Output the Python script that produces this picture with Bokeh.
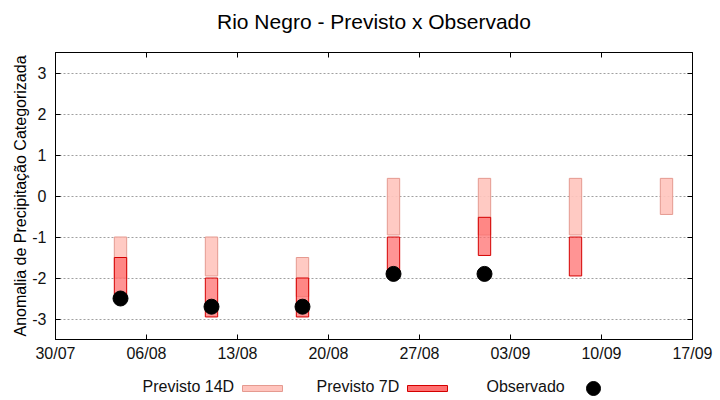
from datetime import datetime

import numpy as np
from bokeh.core.properties import value
from bokeh.embed import file_html
from bokeh.layouts import column
from bokeh.models import (ColumnDataSource, CustomJSTickFormatter, DatetimeAxis,
                          DatetimeTickFormatter, FixedTicker, LinearAxis, Range1d)
from bokeh.plotting import figure
from bokeh.resources import INLINE

# Data
dates = ["2024-08-04", "2024-08-11", "2024-08-18", "2024-08-25",
         "2024-09-01", "2024-09-08", "2024-09-15"]
p14_top = [-1.0, -1.0, -1.5, 0.43, 0.43, 0.43, 0.43]
p14_bottom = [-2.0, -1.95, -2.45, -0.95, -0.95, -0.95, -0.45]
p7_top = [-1.5, -2.0, -2.0, -1.0, -0.52, -1.0, np.nan]
p7_bottom = [-2.5, -2.95, -2.95, -1.9, -1.45, -1.95, np.nan]
observed = [-2.5, -2.7, -2.7, -1.9, -1.9, np.nan, np.nan]

x_ticks = ["2024-07-30", "2024-08-06", "2024-08-13", "2024-08-20",
           "2024-08-27", "2024-09-03", "2024-09-10", "2024-09-17"]
y_ticks = [-3, -2, -1, 0, 1, 2, 3]
leg_names = ["Previsto 14D", "Previsto 7D", "Observado"]
title = "Rio Negro - Previsto x Observado"

FONT = "Liberation Sans"
C14_FILL, C14_LINE = "#ffc4bd", "#e59a90"
C7_FILL, C7_LINE = "#ff7070", "#d40000"

# frame edges in page pixels (the column lines up the frames of all parts)
FL, FR = 55, 692


def ms(d):
    return datetime.strptime(d, "%Y-%m-%d").timestamp() * 1000.0


def strip(h):
    f = figure(width=720, height=h, x_range=Range1d(FL, FR), y_range=Range1d(0, h),
               toolbar_location=None, tools="", output_backend="svg",
               min_border=0)
    f.axis.visible = False
    f.grid.visible = False
    f.outline_line_color = None
    return f


x = [datetime.strptime(d, "%Y-%m-%d") for d in dates]
src = ColumnDataSource(dict(x=x, p14_top=p14_top, p14_bottom=p14_bottom,
                            p7_top=p7_top, p7_bottom=p7_bottom, obs=observed))

day = 86400000
xticker = FixedTicker(ticks=[ms(d) for d in x_ticks])
yticker = FixedTicker(ticks=y_ticks)

# title strip
top = strip(40)
top.text(x=[(FL + FR) / 2], y=[19.5], text=[title], text_font=value(FONT),
         text_font_size="21px", text_color="black", text_baseline="middle",
         text_align="center")

p = figure(width=720, height=338, x_axis_type="datetime",
           x_range=Range1d(datetime(2024, 7, 30), datetime(2024, 9, 17)),
           y_range=Range1d(-3.5, 3.5),
           toolbar_location=None, tools="", output_backend="svg",
           min_border_left=FL, min_border_right=720 - FR, min_border_top=12,
           min_border_bottom=39)

p.vbar(x="x", top="p14_top", bottom="p14_bottom", width=0.95 * day, source=src,
       fill_color=C14_FILL, fill_alpha=0.9, line_color=C14_LINE, line_width=1)
p.vbar(x="x", top="p7_top", bottom="p7_bottom", width=0.95 * day, source=src,
       fill_color=C7_FILL, fill_alpha=0.75, line_color=C7_LINE, line_width=1)
p.scatter(x="x", y="obs", size=15, source=src, color="black")

p.xgrid.grid_line_color = None
p.ygrid.ticker = yticker
p.ygrid.grid_line_color = "#a0a0a0"
p.ygrid.grid_line_dash = "2 2"

p.outline_line_color = "black"
p.outline_line_alpha = 1

fmt = DatetimeTickFormatter(days="%d/%m", months="%d/%m", hours="%d/%m")
blank = CustomJSTickFormatter(code="return ''")

for ax in p.xaxis:
    ax.ticker = xticker
    ax.formatter = fmt
for ax in p.yaxis:
    ax.ticker = yticker
    ax.major_label_overrides = {t: str(t) for t in y_ticks}

p.yaxis.axis_label = "Anomalia de Precipitação Categorizada"
p.yaxis.axis_label_text_font = FONT
p.yaxis.axis_label_text_font_size = "16px"
p.yaxis.axis_label_text_font_style = "normal"
p.yaxis.axis_label_text_color = "black"
p.yaxis.axis_label_standoff = 0

# mirror axes on top and right, ticks only
p.add_layout(LinearAxis(ticker=yticker, formatter=blank, major_label_standoff=0), "right")
p.add_layout(DatetimeAxis(ticker=xticker, formatter=blank, major_label_standoff=0), "above")

for ax in p.axis:
    ax.major_tick_in = 5
    ax.major_tick_out = 0
    ax.minor_tick_line_color = None
    ax.axis_line_color = "black"
    ax.major_tick_line_color = "black"
    ax.major_label_text_font = FONT
    ax.major_label_text_font_size = "16px"
    ax.major_label_text_color = "#111111"
p.yaxis[0].major_label_standoff = 9
p.xaxis[0].major_label_standoff = 5

# legend strip below the plot, text on the left of each key
leg = strip(22)
leg.text(x=[142, 316, 486], y=[14, 14, 14], text=leg_names,
         text_font=value(FONT), text_font_size="16px", text_color="#111111",
         text_baseline="middle", text_align="left")
leg.rect(x=[262], y=[12], width=40, height=6, fill_color=C14_FILL,
         line_color=C14_LINE)
leg.rect(x=[427], y=[12], width=40, height=6, fill_color=C7_FILL,
         line_color=C7_LINE)
leg.scatter(x=[593], y=[12], size=14, color="black")

layout = column(top, p, leg, spacing=0)

open("out.html", "w").write(file_html(layout, INLINE))
